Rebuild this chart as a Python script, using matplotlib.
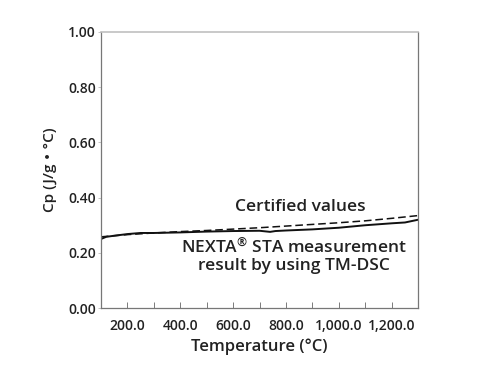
import matplotlib
matplotlib.use("Agg")
import matplotlib.pyplot as plt
from matplotlib.ticker import MultipleLocator, FuncFormatter

plt.rcParams['font.family'] = ['Open Sans', 'Noto Sans CJK JP', 'DejaVu Sans']
plt.rcParams['mathtext.fontset'] = 'custom'
plt.rcParams['mathtext.rm'] = 'Open Sans:semibold'
plt.rcParams['mathtext.it'] = 'Open Sans:semibold'

# measured curve (solid)
meas_t = [100, 120, 150, 200, 250, 300, 400, 500, 600, 700, 720, 740, 760,
          800, 900, 1000, 1100, 1200, 1250, 1300]
meas_cp = [0.250, 0.258, 0.262, 0.268, 0.272, 0.272, 0.274, 0.277, 0.279,
           0.280, 0.278, 0.276, 0.279, 0.281, 0.285, 0.291, 0.300, 0.307,
           0.310, 0.320]

# certified values (dashed)
cert_t = [100, 200, 300, 400, 500, 600, 700, 800, 900, 1000, 1100, 1200, 1300]
cert_cp = [0.258, 0.266, 0.272, 0.277, 0.281, 0.286, 0.291, 0.297, 0.303,
           0.309, 0.316, 0.325, 0.335]

xticks = [200, 400, 600, 800, 1000, 1200]
yticks = [0.0, 0.2, 0.4, 0.6, 0.8, 1.0]

fig = plt.figure(figsize=(4.92, 3.79), dpi=100)
ax = fig.add_axes([0.205, 0.187, 0.645, 0.729])

ax.plot(meas_t, meas_cp, color='#111111', lw=1.4)
ax.plot(cert_t, cert_cp, color='#111111', lw=1.1, ls=(0, (5, 2.5)))

ax.set_xlim(100, 1300)
ax.set_ylim(0, 1.0)
ax.set_xticks(xticks)
ax.xaxis.set_minor_locator(MultipleLocator(100))
ax.xaxis.set_major_formatter(FuncFormatter(lambda v, p: f"{v:,.1f}"))
ax.set_yticks(yticks)
ax.yaxis.set_major_formatter(FuncFormatter(lambda v, p: f"{v:.2f}"))

ax.tick_params(axis='x', which='both', direction='in', length=4, width=0.6,
               color='#666666', labelsize=10, pad=8)
ax.tick_params(axis='y', direction='out', length=2, width=0.6,
               color='#bbbbbb', labelsize=10, pad=1.5)
for lab in ax.get_xticklabels() + ax.get_yticklabels():
    lab.set_fontweight('semibold')
    lab.set_color('#222222')

for side in ['left', 'bottom', 'right']:
    ax.spines[side].set_color('#777777')
    ax.spines[side].set_linewidth(0.9)
ax.spines['top'].set_color('#c0c0c0')
ax.spines['top'].set_linewidth(1.2)

ax.set_xlabel('Temperature (°C)', fontsize=12, fontweight='semibold',
              color='#222222', labelpad=4)
ax.set_ylabel('Cp (J/g・°C)', fontsize=11, fontweight='semibold',
              color='#222222', labelpad=8)

txt = dict(ha='center', va='center', fontsize=12.5, fontweight='semibold',
           color='#222222')
ax.text(853, 0.366, 'Certified values', **txt)
ax.text(830, 0.221, r'NEXTA$^{®}$ STA measurement', **txt)
ax.text(830, 0.152, 'result by using TM-DSC', **txt)

fig.savefig('out.png', dpi=100)
